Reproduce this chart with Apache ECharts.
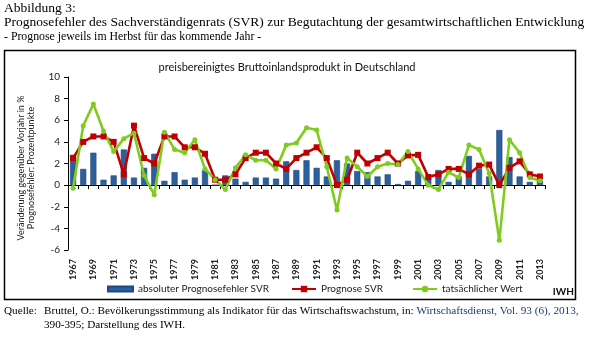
<!DOCTYPE html>
<html><head><meta charset="utf-8">
<script src="https://cdn.jsdelivr.net/npm/echarts@6/dist/echarts.min.js"></script>
<style>html,body{margin:0;padding:0;background:#fff}#c{width:600px;height:338px}</style>
</head><body><div id="c"></div>
<script>
const years = [];
for (let y = 1967; y <= 2013; y++) years.push(String(y));
const absError = [2.8,1.5,3.0,0.5,0.9,3.3,0.7,1.6,2.9,0.4,1.2,0.5,0.7,1.4,0.0,0.9,0.6,0.3,0.7,0.7,0.6,2.2,1.4,2.3,1.6,0.8,2.3,2.0,1.3,1.2,0.8,1.0,0.1,0.4,1.3,0.7,1.4,0.3,0.8,2.7,1.5,0.8,5.1,2.6,0.8,0.3,0.4];
const forecastSVR = [2.5,4.0,4.5,4.5,4.0,1.0,5.5,2.5,2.0,4.5,4.5,3.5,3.5,2.9,0.5,0.5,1.0,2.5,3.0,3.0,2.0,1.5,2.5,3.0,3.5,2.5,0.0,0.5,3.0,2.0,2.5,3.0,2.0,2.75,2.8,0.75,1.0,1.5,1.5,1.0,1.8,1.9,0.0,1.6,2.2,1.0,0.8];
const actual = [-0.3,5.5,7.5,5.0,3.1,4.3,4.8,0.9,-0.9,4.9,3.3,3.0,4.2,1.5,0.5,-0.4,1.6,2.8,2.3,2.3,1.5,3.7,3.9,5.3,5.1,1.7,-2.3,2.5,1.7,0.8,1.7,2.0,1.9,3.1,1.5,0.0,-0.4,1.2,0.7,3.7,3.3,1.1,-5.1,4.2,3.0,0.7,0.4];
const names = ['absoluter Prognosefehler SVR','Prognose SVR','tatsächlicher Wert'];

const chart = echarts.init(document.getElementById('c'));
const sans = 'Lato';
chart.setOption({
  animation: false,
  textStyle: {fontFamily: sans},
  grid: {left: 68, right: 55, top: 77, bottom: 88},
  xAxis: [
    {type: 'category', data: years, boundaryGap: true,
     axisLine: {onZero: true, lineStyle: {color: '#000', width: 1}},
     axisTick: {show: true, interval: 0, length: 4, lineStyle: {color: '#000'}},
     axisLabel: {show: false}},
    {type: 'category', data: years, boundaryGap: true, position: 'bottom',
     axisLine: {show: false, onZero: false}, axisTick: {show: false},
     axisLabel: {interval: 1, rotate: 90, fontSize: 9, fontWeight: 'bold', color: '#222', margin: 9, fontFamily: sans}}
  ],
  yAxis: {type: 'value', min: -6, max: 10, interval: 2,
    axisLine: {show: true, lineStyle: {color: '#000'}},
    axisTick: {show: true, length: 4, lineStyle: {color: '#000'}},
    splitLine: {show: false},
    axisLabel: {fontSize: 10, color: '#222', margin: 8}},
  legend: [
    {data: [names[0]], left: 102, top: 279, itemWidth: 25, itemHeight: 5, icon: 'rect', itemGap: 4,
     textStyle: {fontSize: 10, color: '#222'}},
    {data: [names[1]], left: 286, top: 279, itemWidth: 24, itemHeight: 8, itemGap: 4,
     textStyle: {fontSize: 10, color: '#222'}},
    {data: [names[2]], left: 407, top: 279, itemWidth: 24, itemHeight: 8, itemGap: 4,
     textStyle: {fontSize: 10, color: '#222'}}
  ],
  series: [
    {name: names[0], type: 'bar', data: absError, barWidth: '60%',
     itemStyle: {color: '#2c5f9c', borderColor: '#1c4a80', borderWidth: 0.6}},
    {name: names[1], type: 'line', data: forecastSVR, symbol: 'rect', symbolSize: 6,
     lineStyle: {color: '#c00000', width: 2.6}, itemStyle: {color: '#c00000'}},
    {name: names[2], type: 'line', data: actual, symbol: 'circle', symbolSize: 5,
     lineStyle: {color: '#7fcc1f', width: 2.6}, itemStyle: {color: '#7fcc1f'}}
  ],
  graphic: [
    {type: 'rect', shape: {x: 4.5, y: 50.5, width: 571, height: 249}, style: {fill: 'none', stroke: '#000', lineWidth: 1.5}, silent: true},
    {type: 'text', left: 4, top: 1, style: {text: 'Abbildung 3:', font: '13.5px "Liberation Serif"', fill: '#000'}},
    {type: 'text', left: 4, top: 15, style: {text: 'Prognosefehler des Sachverständigenrats (SVR) zur Begutachtung der gesamtwirtschaftlichen Entwicklung', font: '13.5px "Liberation Serif"', fill: '#000'}},
    {type: 'text', left: 4, top: 31, style: {text: '- Prognose jeweils im Herbst für das kommende Jahr -', font: '11.8px "Liberation Serif"', fill: '#000'}},
    {type: 'text', x: 287, y: 67, style: {text: 'preisbereinigtes Bruttoinlandsprodukt in Deutschland', font: '11px Lato', fill: '#111', align: 'center', verticalAlign: 'middle'}},
    {type: 'text', x: 21, y: 168, rotation: Math.PI/2, style: {text: 'Veränderung gegenüber Vorjahr in %', font: '9px Lato', fill: '#222', align: 'center', verticalAlign: 'middle'}},
    {type: 'text', x: 31, y: 168, rotation: Math.PI/2, style: {text: 'Prognosefehler: Prozentpunkte', font: '9px Lato', fill: '#222', align: 'center', verticalAlign: 'middle'}},
    {type: 'text', x: 574, y: 292, style: {text: 'IWH', font: 'bold 10px Lato', fill: '#111', align: 'right', verticalAlign: 'middle'}},
    {type: 'text', left: 4, top: 306, style: {text: 'Quelle:', font: '11.2px "Liberation Serif"', fill: '#000'}},
    {type: 'text', left: 44, top: 306, style: {rich: {a: {font: '11.2px "Liberation Serif"', fill: '#000'}, b: {font: '11.2px "Liberation Serif"', fill: '#1f3a73'}}, text: '{a|Bruttel, O.: Bevölkerungsstimmung als Indikator für das Wirtschaftswachstum, in: }{b|Wirtschaftsdienst, Vol. 93 (6), 2013,}'}},
    {type: 'text', left: 44, top: 320, style: {text: '390-395; Darstellung des IWH.', font: '11.2px "Liberation Serif"', fill: '#000'}}
  ]
});
</script></body></html>
